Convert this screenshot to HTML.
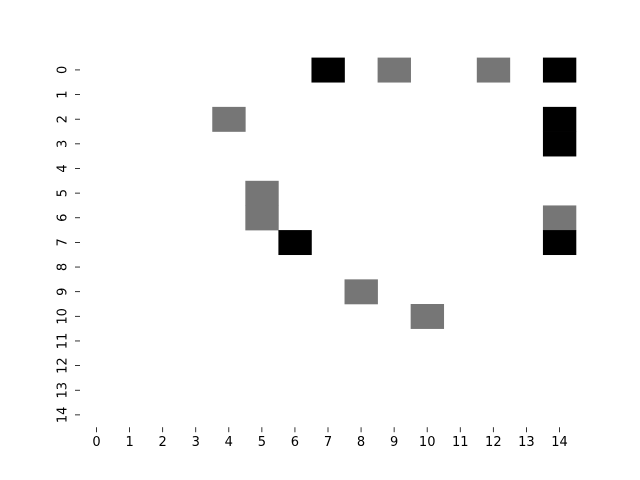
<!DOCTYPE html>
<html><head><meta charset="utf-8"><style>body{margin:0;background:#fff}svg{display:block}text{font-family:"DejaVu Sans","Liberation Sans",sans-serif;font-size:13px;fill:#000}</style></head>
<body>
<svg id="chart" width="640" height="480" viewBox="0 0 640 480"></svg>
<script>
const rowLabels = ["0","1","2","3","4","5","6","7","8","9","10","11","12","13","14"];
const colLabels = ["0","1","2","3","4","5","6","7","8","9","10","11","12","13","14"];
const cellRows = [0,0,0,0,2,2,3,5,6,6,7,7,9,10];
const cellCols = [7,9,12,14,4,14,14,5,5,14,6,14,8,10];
const cellVals = [1,0.5,0.5,1,0.5,1,1,0.5,0.5,0.5,1,1,0.5,0.5];

const svg = document.getElementById('chart');
const NS = 'http://www.w3.org/2000/svg';
const L = 80, R = 576, T = 57.6, B = 427.2;
const cw = (R - L) / colLabels.length, ch = (B - T) / rowLabels.length;
const xPos = c => L + c * cw;
const yPos = r => T + r * ch;
function color(v){ if(v>=1) return '#000'; if(v<=0) return '#fff'; return 'rgb(118,118,118)'; }
for (let i = 0; i < cellVals.length; i++) {
  const r = document.createElementNS(NS, 'rect');
  r.setAttribute('x', xPos(cellCols[i])); r.setAttribute('y', yPos(cellRows[i]));
  r.setAttribute('width', cw + 0.3); r.setAttribute('height', ch + 0.3);
  r.setAttribute('fill', color(cellVals[i]));
  
  
  svg.appendChild(r);
}
rowLabels.forEach((lab, i) => {
  const y = yPos(i) + ch / 2;
  const t = document.createElementNS(NS, 'line');
  t.setAttribute('x1', L - 5); t.setAttribute('x2', L); t.setAttribute('y1', y); t.setAttribute('y2', y);
  t.setAttribute('stroke', '#000'); t.setAttribute('stroke-width', '0.8');
  
  
  svg.appendChild(t);
  const tx = document.createElementNS(NS, 'text');
  tx.setAttribute('transform', `translate(${L - 17},${y}) rotate(-90)`);
  tx.setAttribute('text-anchor', 'middle'); tx.setAttribute('dominant-baseline', 'central');
  tx.textContent = lab;
  
  
  svg.appendChild(tx);
});
colLabels.forEach((lab, i) => {
  const x = xPos(i) + cw / 2;
  const t = document.createElementNS(NS, 'line');
  t.setAttribute('x1', x); t.setAttribute('x2', x); t.setAttribute('y1', B); t.setAttribute('y2', B + 5);
  t.setAttribute('stroke', '#000'); t.setAttribute('stroke-width', '0.8');
  
  
  svg.appendChild(t);
  const tx = document.createElementNS(NS, 'text');
  tx.setAttribute('x', x); tx.setAttribute('y', B + 19);
  tx.setAttribute('text-anchor', 'middle');
  tx.textContent = lab;
  
  
  svg.appendChild(tx);
});
</script>
</body></html>
